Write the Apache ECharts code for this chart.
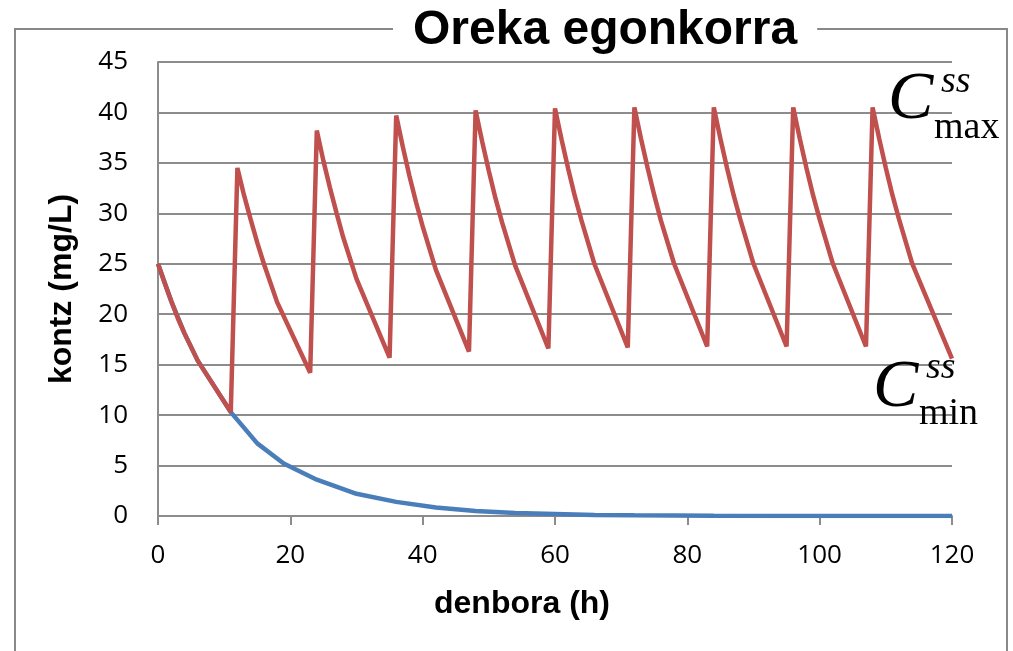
<!DOCTYPE html>
<html>
<head>
<meta charset="utf-8">
<script src="https://cdn.jsdelivr.net/npm/echarts@6/dist/echarts.min.js"></script>
<style>
    html, body { margin: 0; padding: 0; background: #fff; }
    #chart { width: 1013px; height: 651px; }
</style>
</head>
<body>
<div id="chart"></div>
<script>
// multi-dose curve (red): dose every 12 h
var redTimes = [0, 1, 2, 3, 4, 6, 11,
    12, 13, 14, 15, 16, 18, 23,
    24, 25, 26, 27, 28, 30, 35,
    36, 37, 38, 39, 40, 42, 47,
    48, 49, 50, 51, 52, 54, 59,
    60, 61, 62, 63, 64, 66, 71,
    72, 73, 74, 75, 76, 78, 83,
    84, 85, 86, 87, 88, 90, 95,
    96, 97, 98, 99, 100, 102, 107,
    108, 109, 110, 111, 112, 114, 120];
var redConc = [25.0, 23.1, 21.3, 19.6, 18.1, 15.4, 10.3,
    34.5, 31.8, 29.4, 27.1, 25.0, 21.2, 14.2,
    38.2, 35.2, 32.5, 30.0, 27.6, 23.5, 15.7,
    39.7, 36.6, 33.7, 31.1, 28.7, 24.4, 16.3,
    40.2, 37.1, 34.2, 31.5, 29.1, 24.8, 16.6,
    40.4, 37.3, 34.4, 31.7, 29.3, 24.9, 16.7,
    40.5, 37.4, 34.5, 31.8, 29.3, 25.0, 16.8,
    40.5, 37.4, 34.5, 31.8, 29.4, 25.0, 16.8,
    40.5, 37.4, 34.5, 31.8, 29.4, 25.0, 16.8,
    40.5, 37.4, 34.5, 31.8, 29.4, 25.0, 15.6];

// single dose curve (blue)
var blueTimes = [0, 2, 4, 6, 11, 15, 19, 24, 30, 36, 42, 48, 54, 60, 66, 72, 84, 96, 108, 120];
var blueConc = [25.0, 21.3, 18.1, 15.4, 10.3, 7.2, 5.2, 3.6, 2.2, 1.4, 0.85, 0.5, 0.3, 0.2, 0.1, 0.07, 0.03, 0.01, 0.0, 0.0];

var titleText = 'Oreka egonkorra';
var xName = 'denbora (h)';
var yName = 'kontz (mg/L)';

function pairs(xs, ys) {
    var out = [];
    for (var i = 0; i < xs.length; i++) {
        out.push([xs[i], ys[i]]);
    }
    return out;
}

var gridColor = '#8c8c8c';
var tickFont = {color: '#000', fontSize: 26, fontFamily: 'Open Sans'};

var myChart = echarts.init(document.getElementById('chart'));
var option = {
    backgroundColor: '#fff',
    animation: false,
    title: {
        text: titleText,
        left: 393,
        top: 7,
        padding: [0, 20],
        backgroundColor: '#fff',
        textStyle: {
            color: '#000',
            fontSize: 48,
            fontWeight: 'bold',
            fontFamily: 'Liberation Sans'
        }
    },
    grid: {
        left: 158,
        right: 61,
        top: 62,
        bottom: 135
    },
    xAxis: {
        type: 'value',
        min: 0,
        max: 120,
        interval: 20,
        name: xName,
        nameLocation: 'middle',
        nameGap: 72,
        // excel puts this title a little left of the plot centre
        nameTextStyle: {
            color: '#000',
            fontSize: 32,
            fontWeight: 'bold',
            fontFamily: 'Liberation Sans',
            padding: [0, 66, 0, 0]
        },
        axisLine: {show: true, lineStyle: {color: gridColor, width: 2}},
        axisTick: {show: true, length: 9, lineStyle: {color: gridColor, width: 2}},
        axisLabel: {margin: 27, color: tickFont.color, fontSize: tickFont.fontSize, fontFamily: tickFont.fontFamily},
        splitLine: {show: false}
    },
    yAxis: {
        type: 'value',
        min: 0,
        max: 45,
        interval: 5,
        name: yName,
        nameLocation: 'middle',
        nameGap: 80,
        nameTextStyle: {
            color: '#000',
            fontSize: 32,
            fontWeight: 'bold',
            fontFamily: 'Liberation Sans'
        },
        axisLine: {show: true, lineStyle: {color: gridColor, width: 2}},
        axisTick: {show: false},
        axisLabel: {margin: 30, color: tickFont.color, fontSize: tickFont.fontSize, fontFamily: tickFont.fontFamily},
        splitLine: {show: true, lineStyle: {color: gridColor, width: 2}}
    },
    series: [{
        type: 'line',
        data: pairs(blueTimes, blueConc),
        showSymbol: false,
        lineStyle: {color: '#4a7ebb', width: 4.5},
        itemStyle: {color: '#4a7ebb'}
    }, {
        type: 'line',
        data: pairs(redTimes, redConc),
        showSymbol: false,
        lineStyle: {color: '#c0504d', width: 4.5},
        itemStyle: {color: '#c0504d'}
    }],
    graphic: [{
        // outer frame, title sits on top of it
        type: 'rect',
        z: -10,
        shape: {x: 15, y: 29, width: 992, height: 700},
        style: {fill: 'none', stroke: '#888', lineWidth: 2}
    }, {
        type: 'text', z: 100,
        style: {x: 888, y: 100, text: 'C', font: 'italic 68px "Liberation Serif"', fill: '#000', textVerticalAlign: 'middle'}
    }, {
        type: 'text', z: 100,
        style: {x: 941, y: 82, text: 'ss', font: 'italic 38px "Liberation Serif"', fill: '#000', textVerticalAlign: 'middle'}
    }, {
        type: 'text', z: 100,
        style: {x: 934, y: 128, text: 'max', font: '38px "Liberation Serif"', fill: '#000', textVerticalAlign: 'middle'}
    }, {
        type: 'text', z: 100,
        style: {x: 873, y: 388, text: 'C', font: 'italic 68px "Liberation Serif"', fill: '#000', textVerticalAlign: 'middle'}
    }, {
        type: 'text', z: 100,
        style: {x: 926, y: 368, text: 'ss', font: 'italic 38px "Liberation Serif"', fill: '#000', textVerticalAlign: 'middle'}
    }, {
        type: 'text', z: 100,
        style: {x: 919, y: 414, text: 'min', font: '38px "Liberation Serif"', fill: '#000', textVerticalAlign: 'middle'}
    }]
};
myChart.setOption(option);
</script>
</body>
</html>
